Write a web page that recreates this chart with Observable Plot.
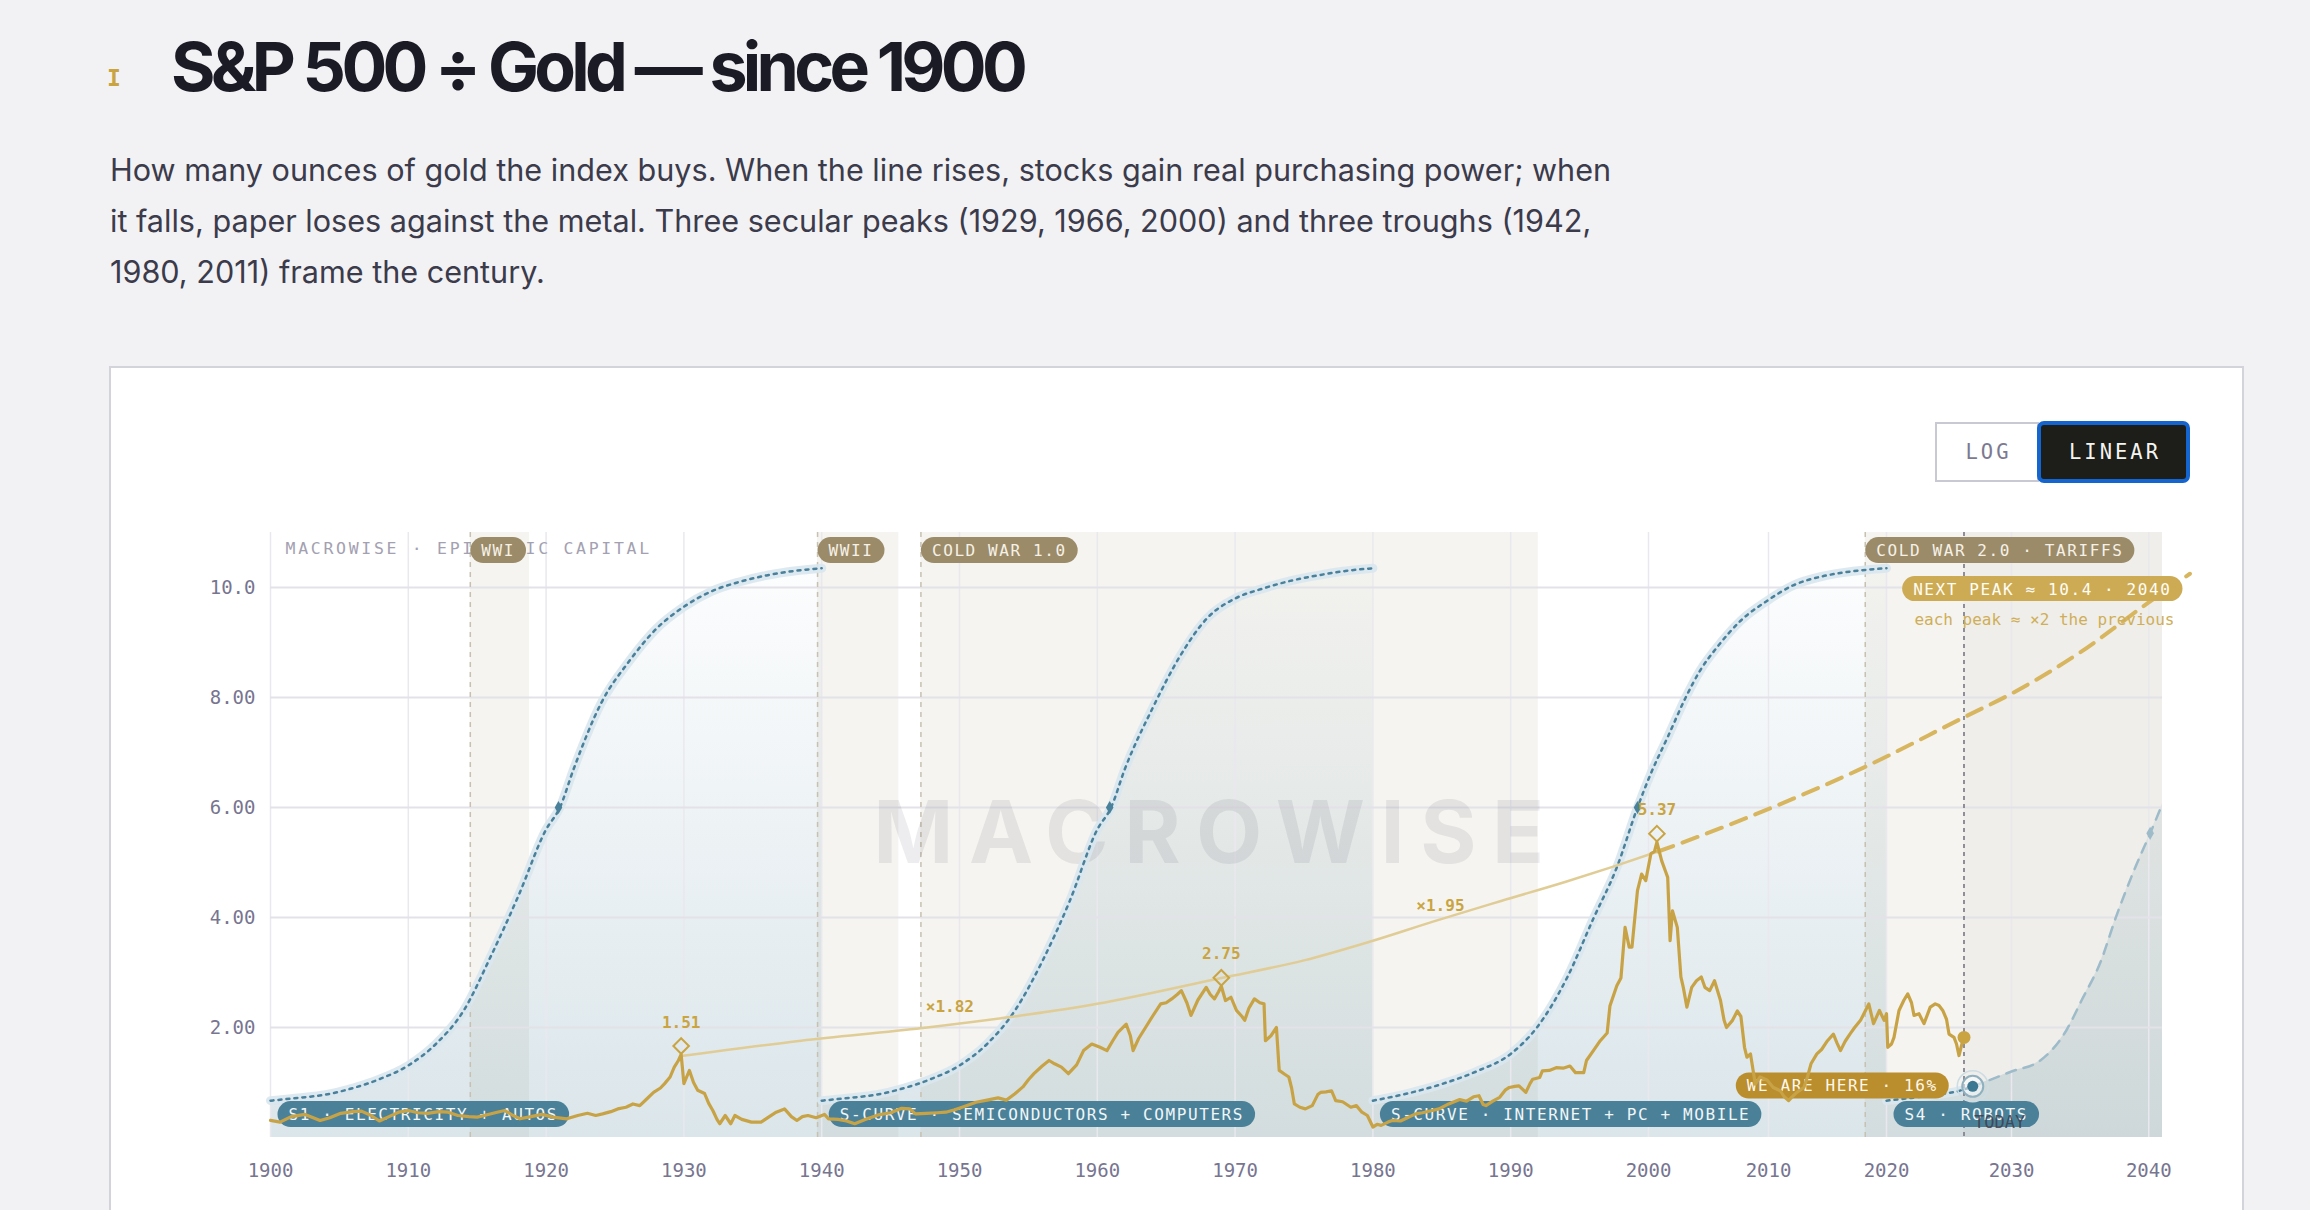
<!DOCTYPE html>
<html>
<head>
<meta charset="utf-8">
<script src="https://cdn.jsdelivr.net/npm/d3@7"></script>
<script src="https://cdn.jsdelivr.net/npm/@observablehq/plot@0.6"></script>
<style>
  html, body { margin:0; padding:0; background:#f2f2f4; }
  body { width:2310px; height:1210px; position:relative; overflow:hidden; font-family: Inter, "Noto Sans", sans-serif; }
  .icon { position:absolute; left:107px; top:67px; font: 700 23px/23px "DejaVu Sans Mono", monospace; color:#c9a441; }
  h1 { position:absolute; left:171px; top:32px; margin:0; font: 700 68px/68px Inter, sans-serif; letter-spacing:-0.069em; color:#1b1b26; white-space:nowrap; }
  .sub { position:absolute; left:110px; top:144px; margin:0; font: 400 30.6px/51px Inter, sans-serif; color:#3b3b4b; white-space:nowrap; }
  .card { position:absolute; left:109px; top:366px; width:2135px; height:900px; box-sizing:border-box; border:2px solid #d3d3db; background:#fff; }
  .btn { position:absolute; box-sizing:border-box; display:flex; align-items:center; justify-content:center; padding-left:3px; font: 400 20.5px "DejaVu Sans Mono", monospace; letter-spacing:3px; }
  .log { left:1935px; top:422px; width:104px; height:60px; border:2px solid #c9c9d3; background:#fff; color:#7c7a90; }
  .lin { left:2037px; top:421px; width:153px; height:62px; border:4px solid #1565d0; border-radius:7px; background:#1d1d19; color:#f4f4f0; }
  #chart { position:absolute; left:110px; top:500px; }
</style>
</head>
<body>
<div class="icon">I</div>
<h1>S&amp;P 500 ÷ Gold — since 1900</h1>
<p class="sub">How many ounces of gold the index buys. When the line rises, stocks gain real purchasing power; when<br>it falls, paper loses against the metal. Three secular peaks (1929, 1966, 2000) and three troughs (1942,<br>1980, 2011) frame the century.</p>
<div class="card"></div>
<div class="btn log">LOG</div>
<div class="btn lin">LINEAR</div>
<div id="chart"></div>
<script>
// ---------- DATA ----------
const decadeTicks = [1900,1910,1920,1930,1940,1950,1960,1970,1980,1990,2000,2010,2020,2030,2040];
const yTicks = [2,4,6,8,10];

// S&P 500 / gold ratio: [year, ounces]
const goldRatio = [
[1900.0,0.31],[1900.7,0.28],[1901.5,0.38],[1902.5,0.42],[1903.6,0.31],[1904.3,0.36],[1905.1,0.44],[1906.0,0.47],[1906.6,0.48],[1907.3,0.40],
[1907.9,0.30],[1908.6,0.38],[1909.3,0.46],[1910.0,0.49],[1910.7,0.45],[1911.4,0.44],[1912.2,0.47],[1912.9,0.46],[1913.6,0.40],[1914.4,0.38],
[1915.0,0.37],[1915.5,0.40],[1916.3,0.45],[1917.0,0.49],[1917.6,0.40],[1918.1,0.34],[1918.9,0.38],[1919.7,0.42],[1920.5,0.37],[1921.5,0.34],
[1922.3,0.40],[1923.0,0.44],[1923.6,0.40],[1924.1,0.43],[1924.7,0.47],[1925.2,0.52],[1925.8,0.55],[1926.3,0.61],[1926.8,0.58],[1927.3,0.70],
[1927.8,0.82],[1928.3,0.90],[1928.6,0.98],[1929.0,1.10],[1929.3,1.28],[1929.6,1.40],[1929.8,1.51],[1930.0,0.98],[1930.2,1.10],[1930.4,1.22],
[1930.7,1.00],[1931.0,0.86],[1931.5,0.80],[1931.8,0.62],[1932.1,0.49],[1932.4,0.33],[1932.6,0.25],[1933.0,0.40],[1933.4,0.25],[1933.7,0.40],
[1934.2,0.33],[1934.9,0.28],[1935.6,0.28],[1936.2,0.38],[1936.7,0.46],[1937.3,0.52],[1937.8,0.38],[1938.2,0.31],[1938.6,0.38],[1939.0,0.40],
[1939.6,0.36],[1940.2,0.42],[1940.5,0.34],[1941.2,0.33],[1941.8,0.30],[1942.4,0.25],[1943.2,0.33],[1944.1,0.41],[1945.0,0.45],[1945.8,0.53],
[1946.4,0.52],[1946.8,0.43],[1947.6,0.44],[1948.4,0.45],[1949.0,0.46],[1949.6,0.50],[1950.4,0.57],[1951.2,0.64],[1952.0,0.68],[1952.8,0.72],
[1953.4,0.68],[1954.0,0.79],[1954.6,0.92],[1955.0,1.05],[1955.4,1.16],[1956.0,1.30],[1956.5,1.40],[1956.9,1.34],[1957.4,1.28],[1957.9,1.16],
[1958.5,1.32],[1959.0,1.58],[1959.6,1.70],[1960.2,1.64],[1960.7,1.58],[1961.1,1.75],[1961.5,1.91],[1962.1,2.06],[1962.4,1.85],[1962.6,1.58],
[1963.0,1.80],[1963.5,2.00],[1964.0,2.20],[1964.6,2.43],[1965.0,2.45],[1965.4,2.52],[1965.8,2.60],[1966.1,2.67],[1966.5,2.45],[1966.8,2.22],
[1967.3,2.50],[1967.9,2.73],[1968.2,2.60],[1968.5,2.52],[1968.8,2.65],[1969.0,2.75],[1969.3,2.49],[1969.7,2.55],[1970.1,2.31],[1970.5,2.20],
[1970.7,2.13],[1971.0,2.35],[1971.4,2.52],[1971.8,2.45],[1972.1,2.43],[1972.2,1.76],[1972.6,1.85],[1973.0,2.00],[1973.2,1.22],[1973.6,1.15],
[1973.9,1.10],[1974.1,0.90],[1974.3,0.61],[1974.7,0.55],[1975.1,0.52],[1975.6,0.58],[1976.0,0.78],[1976.2,0.82],[1976.6,0.83],[1977.0,0.85],
[1977.3,0.67],[1977.8,0.65],[1978.4,0.55],[1978.8,0.58],[1979.2,0.46],[1979.6,0.40],[1980.0,0.19],[1980.3,0.24],[1980.6,0.22],[1981.1,0.28],
[1981.4,0.31],[1982.0,0.30],[1982.5,0.36],[1983.1,0.43],[1983.6,0.45],[1984.3,0.49],[1984.8,0.52],[1985.5,0.61],[1986.3,0.69],[1986.8,0.66],
[1987.3,0.74],[1987.7,0.76],[1988.0,0.60],[1988.2,0.58],[1988.7,0.66],[1989.2,0.73],[1989.6,0.86],[1989.9,0.91],[1990.3,0.93],[1990.6,0.94],
[1991.1,0.82],[1991.4,0.98],[1991.6,1.06],[1992.1,1.09],[1992.3,1.21],[1992.8,1.22],[1993.3,1.27],[1993.8,1.26],[1994.3,1.30],[1994.7,1.18],
[1995.3,1.18],[1995.5,1.40],[1996.0,1.58],[1996.5,1.76],[1997.0,1.90],[1997.2,2.39],[1997.7,2.76],[1998.0,2.90],[1998.3,3.82],[1998.6,3.46],
[1998.8,3.46],[1999.2,4.49],[1999.5,4.79],[1999.8,4.67],[2000.2,5.16],[2000.5,5.20],[2000.7,5.37],[2001.1,5.03],[2001.4,4.85],[2001.6,4.73],
[2001.8,3.58],[2002.0,4.12],[2002.4,3.82],[2002.7,2.92],[2002.9,2.73],[2003.2,2.37],[2003.6,2.73],[2004.0,2.85],[2004.4,2.92],[2004.7,2.73],
[2005.1,2.67],[2005.5,2.85],[2006.0,2.49],[2006.3,2.13],[2006.5,2.00],[2007.0,2.13],[2007.4,2.30],[2007.7,2.20],[2008.0,1.64],[2008.2,1.46],
[2008.5,1.52],[2008.9,0.97],[2009.3,1.10],[2009.9,1.04],[2010.4,0.91],[2011.0,0.85],[2011.3,0.75],[2011.7,0.67],[2012.0,0.74],[2012.4,0.82],
[2013.0,0.91],[2013.3,1.10],[2013.6,1.34],[2014.1,1.52],[2014.5,1.60],[2015.0,1.76],[2015.5,1.88],[2015.8,1.72],[2016.1,1.58],[2016.5,1.75],
[2016.9,1.88],[2017.3,2.00],[2017.8,2.13],[2018.2,2.30],[2018.5,2.43],[2018.9,2.07],[2019.4,2.31],[2019.8,2.13],[2020.0,2.25],[2020.1,1.64],
[2020.4,1.70],[2020.6,1.82],[2021.0,2.31],[2021.4,2.50],[2021.7,2.61],[2022.0,2.45],[2022.2,2.22],[2022.6,2.25],[2023.0,2.07],[2023.5,2.37],
[2023.9,2.43],[2024.2,2.40],[2024.5,2.31],[2024.8,2.15],[2025.0,1.88],[2025.4,1.82],[2025.6,1.70],[2025.8,1.49],[2026.1,1.76],[2026.2,1.82]
];

// Shaded eras
const eraNames  = ["WWI", "WWII", "COLD WAR 1.0", "COLD WAR 2.0 · TARIFFS"];
const eraStarts = [1914.5, 1939.7, 1947.2, 2018.2];
const eraEnds   = [1918.8, 1945.6, 1992.0, 2041];

// Technology waves (S-curves)
const waveNames  = ["S1 · ELECTRICITY + AUTOS", "S-CURVE · SEMICONDUCTORS + COMPUTERS", "S-CURVE · INTERNET + PC + MOBILE", "S4 · ROBOTS"];
const waveStarts = [1900, 1940, 1980, 2020];

const s1Years  = [1900,1902,1904,1906,1908,1910,1912,1914,1916,1918,1920,1921,1922,1924,1926,1928,1930,1932,1934,1936,1938,1940];
const s1Values = [0.67,0.72,0.78,0.90,1.07,1.31,1.70,2.30,3.30,4.40,5.60,6.00,6.70,7.90,8.65,9.25,9.65,9.93,10.10,10.22,10.30,10.35];
const s2Years  = [1940,1942,1944,1946,1948,1950,1952,1954,1956,1958,1960,1961,1962,1964,1966,1968,1970,1972,1974,1976,1978,1980];
const s2Values = [0.67,0.72,0.78,0.90,1.07,1.31,1.70,2.30,3.20,4.30,5.60,6.00,6.70,7.80,8.75,9.45,9.80,9.98,10.12,10.22,10.30,10.35];
const s3Years  = [1980,1982.5,1985.1,1987.5,1990,1991.9,1994.1,1996.0,1997.7,1999.2,2000.2,2001.6,2003.1,2004.3,2005.7,2007.7,2009.9,2012.1,2014.5,2016.3,2018.2,2020];
const s3Values = [0.67,0.80,0.98,1.20,1.52,2.00,2.91,3.98,4.91,6.00,6.62,7.28,8.00,8.49,8.91,9.40,9.76,10.04,10.20,10.27,10.32,10.35];
const s4Years  = [2020,2022,2024,2026,2026.9,2028.2,2030,2032.1,2034,2035.1,2036.5,2037.6,2039,2040.1,2041];
const s4Values = [0.67,0.72,0.78,0.86,0.93,1.04,1.20,1.40,1.95,2.49,3.20,4.00,4.90,5.53,6.07];
const midYears  = [1920.9, 1960.9, 1999.2, 2040.1];
const midValues = [6.00, 6.00, 6.00, 5.53];

// Secular peaks and the peak-to-peak trend
const peakYears  = [1929.8, 1969.0, 2000.7];
const peakValues = [1.51, 2.75, 5.37];
const ratioTexts  = ["×1.82", "×1.95"];
const ratioYears  = [1949.3, 1984.9];
const ratioValues = [2.37, 4.22];
const trendYears  = [1929.8,1938.5,1947.3,1960.0,1969.0,1975.0,1980.3,1984.3,1989.3,1994.0,1997.5,2000.8];
const trendValues = [1.48,1.76,1.99,2.43,2.90,3.22,3.60,3.92,4.30,4.65,4.93,5.20];
const projYears   = [2000.8,2004.4,2012.1,2018.1,2026.2,2030.0,2035.0,2040.0,2043.0];
const projValues  = [5.20,5.49,6.16,6.73,7.64,8.07,8.82,9.73,10.25];

const today = 2026.2;
const goldNow = 1.82;
const hereYear = 2026.9, hereValue = 0.93, herePct = 16;
const nextPeakValue = 10.4, nextPeakYear = 2040;
const brandText = "MACROWISE · EPISTEMIC CAPITAL";
const watermark = "MACROWISE";

// ---------- BUILD ----------
const zip = (ys, vs) => ys.map((year, i) => ({year, value: vs[i]}));
const gold = goldRatio.map(([year, value]) => ({year, value}));
const eras = eraNames.map((name, i) => ({name, start: eraStarts[i], end: eraEnds[i]}));
const waves = waveNames.map((name, i) => ({name, start: waveStarts[i]}));
const s1 = zip(s1Years, s1Values), s2 = zip(s2Years, s2Values), s3 = zip(s3Years, s3Values), s4 = zip(s4Years, s4Values);
const s4Past = s4.filter(d => d.year <= hereYear), s4Future = s4.filter(d => d.year >= hereYear);
const mids = zip(midYears, midValues);
const peaks = zip(peakYears, peakValues);
const ratios = ratioTexts.map((text, i) => ({text, year: ratioYears[i], value: ratioValues[i]}));
const trend = zip(trendYears, trendValues), proj = zip(projYears, projValues);
const here = {year: hereYear, value: hereValue, pct: herePct};

const NS = "http://www.w3.org/2000/svg";
const GOLD = "#c9a441", TEAL = "#4a8099";
const X = {x: "year", y: "value"};
// label text colours (also used to find the labels after rendering)
const C = {era: "#f6f1e6", wave: "#f1f6f8", here: "#fff8ea", next: "#fffdf5", brand: "#a3a1b1", mark: "#1a1a2e"};

const gradient = () => {
  const defs = document.createElementNS(NS, "defs");
  defs.innerHTML = `<linearGradient id="sFill" gradientUnits="userSpaceOnUse" x1="0" y1="80" x2="0" y2="637">
    <stop offset="0" stop-color="${TEAL}" stop-opacity="0.02"/><stop offset="1" stop-color="${TEAL}" stop-opacity="0.2"/></linearGradient>`;
  return defs;
};

const chart = Plot.plot({
  width: 2133, height: 710,
  marginLeft: 160, marginRight: 81, marginTop: 32, marginBottom: 73,
  x: {type: "linear", domain: [1900, 2000, 2010, 2020, 2030, 2041], range: [160, 1538, 1658, 1776, 1901, 2052]},
  y: {domain: [0, 11]},
  style: {fontFamily: "'DejaVu Sans Mono', monospace", fontSize: "19px", background: "transparent", overflow: "visible"},
  marks: [
    gradient,
    Plot.rect(eras, {x1: "start", x2: "end", fill: "#f5f4f0"}),
    Plot.rect([{start: today, end: 2041}], {x1: "start", x2: "end", fill: "#000", fillOpacity: 0.022}),
    ...[s1, s2, s3, s4].map(s => Plot.areaY(s, {...X, fill: "url(#sFill)", curve: "monotone-x"})),
    Plot.gridX(decadeTicks, {stroke: "#e9e8ee", strokeOpacity: 1, strokeWidth: 1.5}),
    Plot.gridY(yTicks, {stroke: "#e3e2e8", strokeOpacity: 1, strokeWidth: 2}),
    Plot.ruleX(eras, {x: "start", stroke: "#c7c1b2", strokeWidth: 1.5, strokeDasharray: "5 5"}),
    Plot.text([watermark], {text: d => d, frameAnchor: "middle", fontFamily: "Inter, sans-serif", fontWeight: 700, fontSize: 86, fill: C.mark, fillOpacity: 0.08}),
    Plot.text([brandText], {text: d => d, frameAnchor: "top-left", dx: 15, dy: 16, lineAnchor: "middle", fontSize: 16.5, fill: C.brand}),
    ...[s1, s2, s3, s4Past].map(s => Plot.line(s, {...X, stroke: "#d9e7ee", strokeOpacity: 0.9, strokeWidth: 9, curve: "monotone-x"})),
    ...[s1, s2, s3, s4Past].map(s => Plot.line(s, {...X, stroke: TEAL, strokeWidth: 2.5, strokeDasharray: "3 5", curve: "monotone-x"})),
    Plot.line(s4Future, {...X, stroke: "#9dbbc9", strokeWidth: 2.5, strokeDasharray: "10 8", curve: "monotone-x"}),
    Plot.dot(mids.slice(0, 3), {...X, symbol: "diamond", r: 4, fill: TEAL}),
    Plot.dot(mids.slice(3), {...X, symbol: "diamond", r: 4, fill: "#9dbbc9"}),
    Plot.ruleX([today], {stroke: "#85838f", strokeWidth: 1.8, strokeDasharray: "4 4"}),
    Plot.line(trend, {...X, stroke: "#e0cc95", strokeWidth: 2.5, curve: "monotone-x"}),
    Plot.line(proj, {...X, stroke: "#d8b65f", strokeWidth: 4, strokeDasharray: "16 10", curve: "monotone-x"}),
    Plot.text(ratios, {...X, text: "text", fill: GOLD, fontWeight: 700, fontSize: 16}),
    Plot.text(eras, {x: "start", text: "name", frameAnchor: "top", dx: 11, dy: 18.5, textAnchor: "start", lineAnchor: "middle", fontSize: 16, fill: C.era}),
    Plot.text(waves, {x: "start", text: "name", frameAnchor: "bottom", dx: 18, dy: -22.5, textAnchor: "start", lineAnchor: "middle", fontSize: 16, fill: C.wave}),
    Plot.text([here], {...X, text: d => `WE ARE HERE · ${d.pct}%`, dx: -35, textAnchor: "end", lineAnchor: "middle", fontSize: 16, fill: C.here}),
    Plot.text([{year: today}], {x: "year", text: () => "TODAY", frameAnchor: "bottom", dx: 10, dy: -15.3, textAnchor: "start", lineAnchor: "middle", fontSize: 17, fill: "#3e3e4c", fillOpacity: 0.85}),
    Plot.line(gold, {...X, stroke: "#c8a346", strokeWidth: 3.2, strokeLinejoin: "round"}),
    Plot.dot(peaks, {...X, symbol: "diamond2", r: 7, fill: "none", stroke: GOLD, strokeWidth: 2, dy: -8.5}),
    Plot.text(peaks, {...X, text: d => d.value.toFixed(2), dy: -32, fontWeight: 700, fontSize: 16, fill: GOLD}),
    Plot.dot([{year: today, value: goldNow}], {...X, r: 6.5, fill: GOLD}),
    Plot.dot([here], {...X, r: 15.5, fill: "none", stroke: "#cddde4", strokeWidth: 1.5}),
    Plot.dot([here], {...X, r: 10.5, fill: "#fff", fillOpacity: 0.5, stroke: "#8eb0bf", strokeWidth: 2}),
    Plot.dot([here], {...X, r: 5.5, fill: "#3c7891"}),
    Plot.text([{value: nextPeakValue, year: nextPeakYear}], {text: d => `NEXT PEAK ≈ ${d.value} · ${d.year}`, frameAnchor: "top-right", dx: 9, dy: 57, textAnchor: "end", lineAnchor: "middle", fontSize: 16, fill: C.next}),
    Plot.text(["each peak ≈ ×2 the previous"], {text: d => d, frameAnchor: "top-right", dx: 12, dy: 87.3, textAnchor: "end", lineAnchor: "middle", fontSize: 16, fill: "#cfae58"}),
    Plot.axisX({ticks: decadeTicks, tickFormat: d => String(d), tickSize: 0, tickPadding: 26, fontSize: 19, color: "#777590", label: null}),
    Plot.axisY({ticks: yTicks, tickFormat: d3.format(".3r"), tickSize: 0, tickPadding: 15, fontSize: 19, color: "#777590", label: null})
  ]
});
document.getElementById("chart").append(chart);

// find a text mark's group by its constant fill colour
const groupsByFill = fill => [...chart.querySelectorAll("g")].filter(g => (g.getAttribute("fill") || "").toLowerCase() === fill.toLowerCase() && g.querySelector("text"));

const spacing = [[C.era, 1.6], [C.wave, 1.6], [C.here, 1.6], [C.next, 1.6], [C.brand, 2.7], [C.mark, 15.5]];
for (const [fill, ls] of spacing) groupsByFill(fill).forEach(g => g.setAttribute("letter-spacing", ls));

function addPills(textFill, fill, h = 26, padX = 11) {
  groupsByFill(textFill).forEach(g => {
    g.querySelectorAll("text").forEach(t => {
      const b = t.getBBox();
      const r = document.createElementNS(NS, "rect");
      const cy = b.y + b.height / 2 - 0.5;
      r.setAttribute("x", b.x - padX);
      r.setAttribute("y", cy - h / 2);
      r.setAttribute("width", b.width + 2 * padX);
      r.setAttribute("height", h);
      r.setAttribute("rx", h / 2);
      r.setAttribute("fill", fill);
      const tr = t.getAttribute("transform");
      if (tr) r.setAttribute("transform", tr);
      g.insertBefore(r, t);
    });
  });
}
addPills(C.era, "#9b8b69");
addPills(C.wave, "#4a8199");
addPills(C.here, "#ba8d2d");
addPills(C.next, "#cdab55", 25);
</script>
</body>
</html>
